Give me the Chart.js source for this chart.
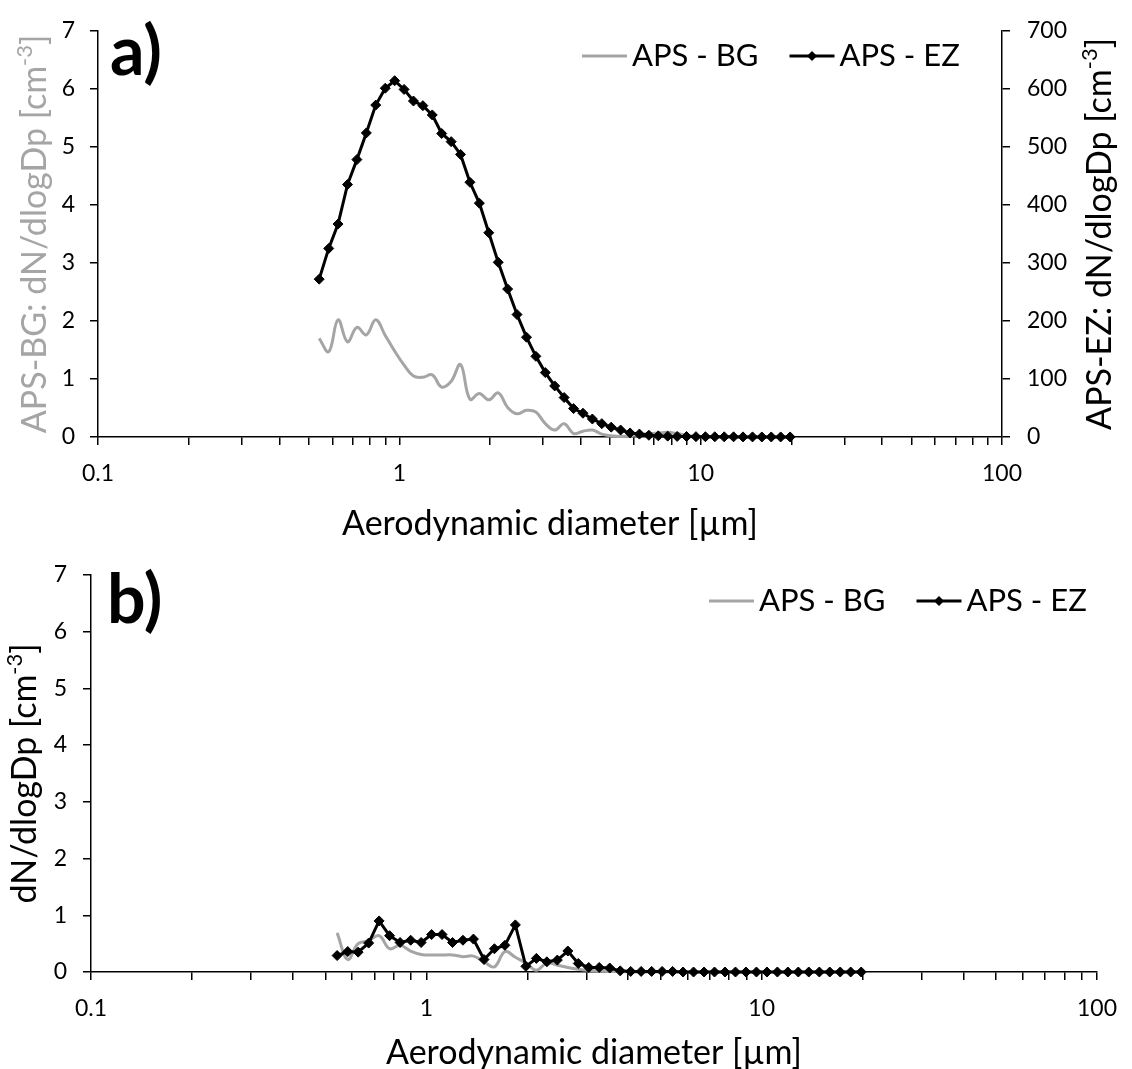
<!DOCTYPE html>
<html>
<head>
<meta charset="utf-8">
<script src="https://cdn.jsdelivr.net/npm/chart.js@4.4.1/dist/chart.umd.min.js"></script>
<style>
  html, body { margin: 0; padding: 0; background: #fff; }
  #wrap { position: relative; width: 1132px; height: 1069px; overflow: hidden; }
  canvas { position: absolute; left: 0; }
  #chartA { top: 0; }
  #chartB { top: 545px; }
</style>
</head>
<body>
<div id="wrap">
  <canvas id="chartA" width="1132" height="545"></canvas>
  <canvas id="chartB" width="1132" height="524"></canvas>
</div>
<script>
// APS channel midpoints [µm]
const diameters = [0.542, 0.583, 0.626, 0.673, 0.723, 0.777, 0.835, 0.898, 0.965, 1.037,
  1.114, 1.197, 1.286, 1.382, 1.486, 1.596, 1.715, 1.843, 1.981, 2.129,
  2.288, 2.458, 2.642, 2.839, 3.051, 3.278, 3.523, 3.786, 4.068, 4.371,
  4.698, 5.048, 5.425, 5.829, 6.264, 6.732, 7.234, 7.774, 8.354, 8.977,
  9.647, 10.37, 11.14, 11.97, 12.86, 13.82, 14.86, 15.96, 17.15, 18.43, 19.81];

// panel a
const bgA = [1.70, 1.47, 2.02, 1.64, 1.89, 1.76, 2.02, 1.75, 1.48, 1.24,
  1.05, 1.03, 1.07, 0.86, 0.96, 1.25, 0.65, 0.75, 0.64, 0.76,
  0.51, 0.40, 0.46, 0.43, 0.23, 0.12, 0.23, 0.06, 0.10, 0.12,
  0.05, 0.02, 0.01, 0.02, 0.04, 0.06, 0.07, 0.08, 0.06, 0.03,
  0.01, 0, 0, 0, 0, 0, 0, 0, 0, 0, 0];
const ezA = [272, 325, 367, 435, 478, 524, 572, 601, 614, 599,
  579, 571, 555, 523, 509, 487, 439, 403, 352, 301,
  255, 211, 172, 139, 111, 88, 68, 49, 41, 31,
  23, 17, 12, 7, 5, 3, 2, 1.5, 1, 0.8,
  0.6, 0.5, 0.4, 0.3, 0.3, 0.2, 0.2, 0.1, 0.1, 0.1, 0.1];

// panel b
const bgB = [0.69, 0.22, 0.50, 0.55, 0.64, 0.41, 0.47, 0.37, 0.31, 0.30,
  0.30, 0.30, 0.27, 0.28, 0.18, 0.09, 0.36, 0.26, 0.16, 0.03,
  0.16, 0.12, 0.08, 0.05, 0.03, 0.02, 0.01, 0.01, 0, 0,
  0, 0, 0, 0, 0, 0, 0, 0, 0, 0,
  0, 0, 0, 0, 0, 0, 0, 0, 0, 0, 0];
const ezB = [0.29, 0.36, 0.35, 0.51, 0.90, 0.64, 0.52, 0.56, 0.52, 0.66,
  0.66, 0.52, 0.56, 0.58, 0.22, 0.41, 0.47, 0.83, 0.10, 0.24,
  0.18, 0.21, 0.37, 0.15, 0.08, 0.08, 0.07, 0.02, 0.01, 0.01,
  0.01, 0.01, 0.01, 0, 0, 0, 0, 0, 0, 0,
  0, 0, 0, 0, 0, 0, 0, 0, 0, 0, 0];

const xMajorTicks = [0.1, 1, 10, 100];
const xTickLabels = ['0.1', '1', '10', '100'];
const legendLabels = ['APS - BG', 'APS - EZ'];

const GRAY = '#a5a5a5';
const TITLE_FONT = 34, TICK_FONT = 23, LEGEND_FONT = 31, LEGEND_GAP = 31;

Chart.defaults.font.family = 'Lato';
Chart.defaults.color = '#000';

// minor ticks 2..9 of every decade
const xTickValues = [];
xMajorTicks.slice(0, -1).forEach(m => {
  for (let k = 1; k <= 9; k++) xTickValues.push(+(m * k).toPrecision(3));
});
xTickValues.push(100);

const points = ys => diameters.map((d, i) => ({x: d, y: ys[i]}));

const axisGrid = {drawOnChartArea: false, drawTicks: true, tickLength: 8, color: '#000', lineWidth: 1.5};
const axisBorder = {display: true, color: '#000', width: 1.5};

function xScale(axisHeight, titlePad) {
  return {
    type: 'logarithmic', position: 'bottom', min: 0.1, max: 100,
    afterBuildTicks: s => { s.ticks = xTickValues.map(v => ({value: v})); },
    afterFit: s => { s.height = axisHeight; },
    ticks: {
      autoSkip: false, maxRotation: 0, padding: 15, font: {size: TICK_FONT}, color: '#000',
      callback: v => { const i = xMajorTicks.indexOf(v); return i >= 0 ? xTickLabels[i] : ''; }
    },
    grid: axisGrid, border: axisBorder,
    title: {display: true, text: 'Aerodynamic diameter [µm]', color: '#000',
      font: {size: TITLE_FONT, lineHeight: 1}, padding: {top: 0, bottom: titlePad}}
  };
}

function yScale(position, max, step, width, pad) {
  return {
    type: 'linear', position, min: 0, max,
    afterFit: s => { s.width = width; },
    ticks: {stepSize: step, padding: pad, font: {size: TICK_FONT}, color: '#000'},
    grid: axisGrid, border: axisBorder
  };
}

// vertical title reading bottom-to-top, with a superscript part
function drawVTitle(ctx, t) {
  ctx.save();
  ctx.translate(t.x, t.y);
  ctx.rotate(-Math.PI / 2);
  ctx.fillStyle = t.color;
  ctx.textBaseline = 'middle';
  const main = TITLE_FONT + 'px Lato', sup = Math.round(TITLE_FONT * 0.65) + 'px Lato';
  let total = 0;
  t.parts.forEach(p => { ctx.font = p[1] ? sup : main; total += ctx.measureText(p[0]).width; });
  let x = -total / 2;
  t.parts.forEach(p => {
    ctx.font = p[1] ? sup : main;
    ctx.fillText(p[0], x, p[1] ? -TITLE_FONT * 0.3 : 0);
    x += ctx.measureText(p[0]).width;
  });
  ctx.restore();
}

// legend row: line sample (with diamond for EZ) followed by the label
function drawLegend(chart, x, y) {
  const ctx = chart.ctx;
  ctx.save();
  ctx.font = LEGEND_FONT + 'px Lato';
  ctx.textBaseline = 'middle';
  chart.data.datasets.forEach((ds, i) => {
    ctx.strokeStyle = ds.borderColor;
    ctx.lineWidth = 3;
    ctx.beginPath(); ctx.moveTo(x, y); ctx.lineTo(x + 45, y); ctx.stroke();
    if (ds.pointRadius > 0) {
      const cx = x + 22.5, r = ds.pointRadius;
      ctx.fillStyle = ds.pointBackgroundColor;
      ctx.beginPath();
      ctx.moveTo(cx, y - r); ctx.lineTo(cx + r, y); ctx.lineTo(cx, y + r); ctx.lineTo(cx - r, y);
      ctx.closePath(); ctx.fill();
    }
    ctx.fillStyle = '#000';
    ctx.fillText(legendLabels[i], x + 50, y);
    x += 50 + ctx.measureText(legendLabels[i]).width + LEGEND_GAP;
  });
  ctx.restore();
}

function decor(cfg) {
  return {
    id: 'decor',
    afterDraw(chart) {
      const ctx = chart.ctx, ca = chart.chartArea;
      drawLegend(chart, cfg.legendX, cfg.legendY);
      ctx.save();
      ctx.font = 'bold 68px Lato';
      ctx.fillStyle = '#000';
      ctx.textBaseline = 'alphabetic';
      ctx.fillText(cfg.panel, cfg.panelX, cfg.panelY);
      ctx.restore();
      cfg.titles.forEach(t => drawVTitle(ctx, Object.assign({y: (ca.top + ca.bottom) / 2}, t)));
    }
  };
}

const unitParts = [['[cm', false], ['-3', true], [']', false]];

function datasets(bg, ez, bgAxis, ezAxis) {
  return [
    {label: legendLabels[0], data: points(bg), yAxisID: bgAxis, order: 2, clip: false,
      borderColor: GRAY, borderWidth: 3, pointRadius: 0, tension: 0.4},
    {label: legendLabels[1], data: points(ez), yAxisID: ezAxis, order: 1, clip: false,
      borderColor: '#000', borderWidth: 3, tension: 0, pointStyle: 'rectRot', pointRadius: 5,
      pointBackgroundColor: '#000', pointBorderColor: '#000', pointBorderWidth: 1}
  ];
}

new Chart(document.getElementById('chartA'), {
  type: 'line',
  data: {datasets: datasets(bgA, ezA, 'y', 'y1')},
  options: {
    responsive: false, animation: false,
    layout: {padding: {top: 23, left: 0, right: 0, bottom: 0}},
    scales: {
      x: xScale(108, 4),
      y: yScale('left', 7, 1, 98, 15),
      y1: yScale('right', 700, 100, 130, 17)
    },
    plugins: {legend: {display: false}, tooltip: {enabled: false}}
  },
  plugins: [decor({
    panel: 'a)', panelX: 110, panelY: 75, legendX: 582, legendY: 56,
    titles: [
      {x: 35, color: GRAY, parts: [['APS-BG: dN/dlogDp ', false]].concat(unitParts)},
      {x: 1100, color: '#000', parts: [['APS-EZ: dN/dlogDp ', false]].concat(unitParts)}
    ]
  })]
});

new Chart(document.getElementById('chartB'), {
  type: 'line',
  data: {datasets: datasets(bgB, ezB, 'y', 'y')},
  options: {
    responsive: false, animation: false,
    layout: {padding: {top: 21, left: 0, right: 22, bottom: 0}},
    scales: {
      x: xScale(97, -1),
      y: yScale('left', 7, 1, 91, 16)
    },
    plugins: {legend: {display: false}, tooltip: {enabled: false}}
  },
  plugins: [decor({
    panel: 'b)', panelX: 107, panelY: 78, legendX: 709, legendY: 56,
    titles: [
      {x: 25, color: '#000', parts: [['dN/dlogDp ', false]].concat(unitParts)}
    ]
  })]
});
</script>
</body>
</html>
